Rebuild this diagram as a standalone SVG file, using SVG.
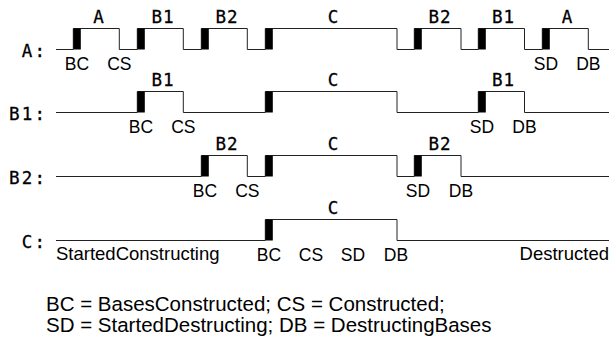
<svg xmlns="http://www.w3.org/2000/svg" width="610" height="338" viewBox="0 0 610 338">
<style>
.sig{fill:none;stroke:#222;stroke-width:1}
.bar{fill:#000}
.mono{font-family:"DejaVu Sans Mono","Liberation Mono",monospace;font-size:17.5px;fill:#000;text-anchor:middle;stroke:#000;stroke-width:0.3px}
.top{letter-spacing:1px}
.ev{font-family:"Liberation Sans",Arial,sans-serif;font-size:17.5px;fill:#000;text-anchor:middle}
.ev2{font-family:"Liberation Sans",Arial,sans-serif;font-size:18.5px;fill:#000}
.leg{font-family:"Liberation Sans",Arial,sans-serif;font-size:20.5px;fill:#000}
</style>
<defs>
<rect id="b" class="bar" x="0" y="0" width="7.5" height="21"/>
</defs>
<g id="connectors">
<path class="sig" d="M56,49.5H73.3V28.5H119.3V49.5H137.3V28.5H183.3V49.5H201.3V28.5H247.3V49.5H265.3V28.5H397V49.5H414.3V28.5H461V49.5H478.3V28.5H524.5V49.5H542.3V28.5H588.3V49.5H609"/>
<path class="sig" d="M56,112.5H137.3V91.5H183.3V112.5H265.3V91.5H397V112.5H478.3V91.5H524.5V112.5H609"/>
<path class="sig" d="M56,176.5H201.3V155.5H247.3V176.5H265.3V155.5H397V176.5H414.3V155.5H461V176.5H609"/>
<path class="sig" d="M56,240.5H265.3V219.5H397V240.5H609"/>
</g>
<g id="rowA">
<text class="mono" x="27 39.7" y="57">A:</text>
<use href="#b" x="73.3" y="28.5"/><use href="#b" x="137.3" y="28.5"/><use href="#b" x="201.3" y="28.5"/><use href="#b" x="265.3" y="28.5"/><use href="#b" x="414.3" y="28.5"/><use href="#b" x="478.3" y="28.5"/><use href="#b" x="542.3" y="28.5"/>
<text class="mono top" x="99" y="22.5">A</text>
<text class="mono top" x="163" y="22.5">B1</text>
<text class="mono top" x="227" y="22.5">B2</text>
<text class="mono top" x="333.5" y="22.5">C</text>
<text class="mono top" x="440" y="22.5">B2</text>
<text class="mono top" x="503.5" y="22.5">B1</text>
<text class="mono top" x="567.5" y="22.5">A</text>
<text class="ev" x="77" y="69.5">BC</text>
<text class="ev" x="119.3" y="69.5">CS</text>
<text class="ev" x="546" y="69.5">SD</text>
<text class="ev" x="588.3" y="69.5">DB</text>
</g>
<g id="rowB1">
<text class="mono" x="14.3 27 39.7" y="120">B1:</text>
<use href="#b" x="137.3" y="91.5"/><use href="#b" x="265.3" y="91.5"/><use href="#b" x="478.3" y="91.5"/>
<text class="mono top" x="163" y="85.5">B1</text>
<text class="mono top" x="333.5" y="85.5">C</text>
<text class="mono top" x="503.5" y="85.5">B1</text>
<text class="ev" x="141" y="132.5">BC</text>
<text class="ev" x="183.3" y="132.5">CS</text>
<text class="ev" x="482" y="132.5">SD</text>
<text class="ev" x="524.5" y="132.5">DB</text>
</g>
<g id="rowB2">
<text class="mono" x="14.3 27 39.7" y="184">B2:</text>
<use href="#b" x="201.3" y="155.5"/><use href="#b" x="265.3" y="155.5"/><use href="#b" x="414.3" y="155.5"/>
<text class="mono top" x="227" y="149.5">B2</text>
<text class="mono top" x="333.5" y="149.5">C</text>
<text class="mono top" x="440" y="149.5">B2</text>
<text class="ev" x="205" y="196.5">BC</text>
<text class="ev" x="247.3" y="196.5">CS</text>
<text class="ev" x="418" y="196.5">SD</text>
<text class="ev" x="461" y="196.5">DB</text>
</g>
<g id="rowC">
<text class="mono" x="27 39.7" y="248">C:</text>
<use href="#b" x="265.3" y="219.5"/>
<text class="mono top" x="333.5" y="213.5">C</text>
<text class="ev2" x="56" y="260">StartedConstructing</text>
<text class="ev" x="269" y="260.5">BC</text>
<text class="ev" x="311" y="260.5">CS</text>
<text class="ev" x="353" y="260.5">SD</text>
<text class="ev" x="396" y="260.5">DB</text>
<text class="ev2" x="609" y="260" text-anchor="end">Destructed</text>
</g>
<g id="legend">
<text class="leg" x="46" y="311">BC = BasesConstructed; CS = Constructed;</text>
<text class="leg" x="46" y="332">SD = StartedDestructing; DB = DestructingBases</text>
</g>
</svg>
